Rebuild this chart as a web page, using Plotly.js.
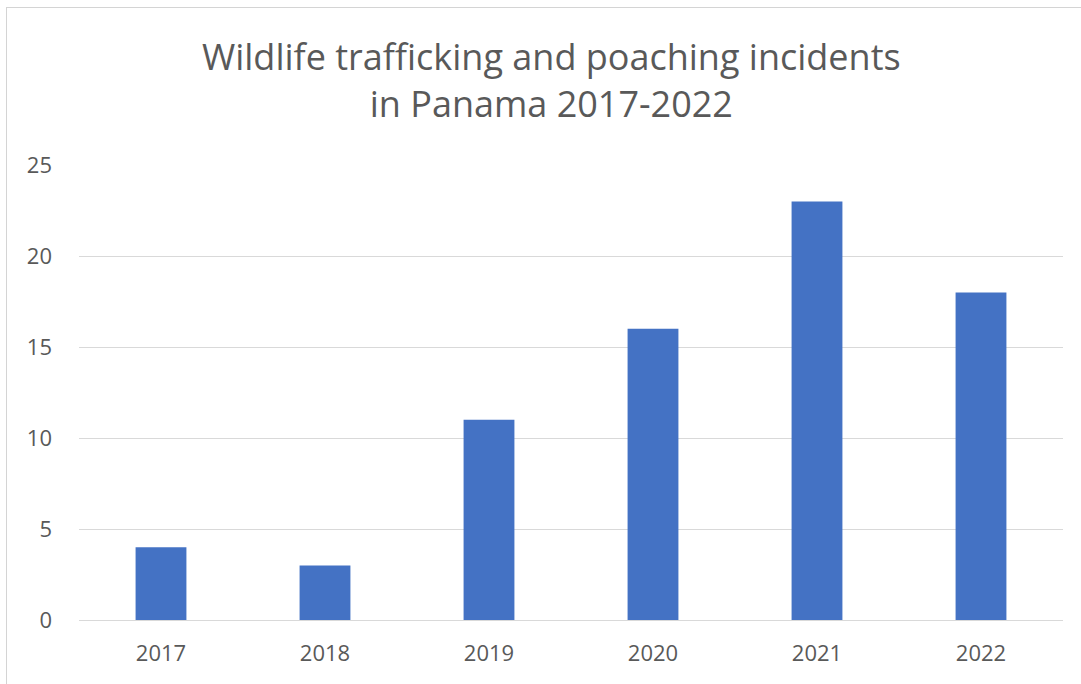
<!DOCTYPE html>
<html>
<head>
<meta charset="utf-8">
<script src="https://cdn.plot.ly/plotly-3.0.1.min.js"></script>
<style>
  html, body { margin: 0; padding: 0; background: #ffffff; }
  #wrap { position: relative; width: 1081px; height: 684px; overflow: hidden; }
  #chart { width: 1081px; height: 684px; }
  #frame { position: absolute; left: 6px; top: 7px; width: 1090px; height: 700px;
           border: 1px solid #d4d4d4; pointer-events: none; box-sizing: border-box; }
</style>
</head>
<body>
<div id="wrap">
  <div id="chart"></div>
  <div id="frame"></div>
</div>
<script>
const years = ["2017", "2018", "2019", "2020", "2021", "2022"];
const incidents = [4, 3, 11, 16, 23, 18];
const yTicks = [0, 5, 10, 15, 20, 25];
const chartTitle = "Wildlife trafficking and poaching incidents<br>in Panama 2017-2022";

const trace = {
  type: "bar",
  x: years,
  y: incidents,
  marker: { color: "#4472C4" },
  hoverinfo: "x+y"
};

const layout = {
  width: 1081,
  height: 684,
  paper_bgcolor: "#ffffff",
  plot_bgcolor: "#ffffff",
  margin: { l: 79, r: 18, t: 165, b: 64 },
  bargap: 0.69,
  showlegend: false,
  font: { family: "Open Sans, Liberation Sans, sans-serif", color: "#595959" },
  title: {
    text: chartTitle,
    font: { family: "Open Sans, sans-serif", size: 36, color: "#595959" },
    x: 0.51,
    xanchor: "center",
    y: 0.898,
    yanchor: "top"
  },
  xaxis: {
    type: "category",
    tickfont: { size: 22, color: "#595959" },
    showgrid: false,
    showline: true,
    linecolor: "#d9d9d9",
    linewidth: 1,
    ticks: "",
    ticklabelstandoff: 14
  },
  yaxis: {
    range: [0, 25],
    tickvals: yTicks,
    ticktext: yTicks.map(String),
    tickfont: { size: 22, color: "#595959" },
    showgrid: true,
    gridcolor: "#d9d9d9",
    gridwidth: 1,
    zeroline: false,
    showline: false,
    ticks: "",
    ticklabelstandoff: 26
  }
};

Plotly.newPlot("chart", [trace], layout, { displayModeBar: false, staticPlot: true });
</script>
</body>
</html>
